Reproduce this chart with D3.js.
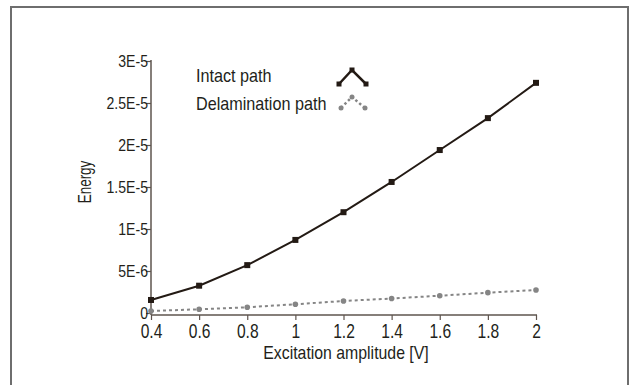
<!DOCTYPE html>
<html>
<head>
<meta charset="utf-8">
<script src="https://cdn.jsdelivr.net/npm/d3@7"></script>
<style>
  html, body { margin: 0; padding: 0; background: #fff; }
  svg { display: block; }
  text { font-family: "Liberation Sans", Arial, sans-serif; fill: #231f1a; }
</style>
</head>
<body>
<svg id="chart" width="634" height="385"></svg>
<script>
// Excitation amplitudes [V]
const amplitudes = [0.4, 0.6, 0.8, 1.0, 1.2, 1.4, 1.6, 1.8, 2.0];
// Signal energy along each path
const intactEnergy = [1.55e-6, 3.25e-6, 5.7e-6, 8.7e-6, 12.0e-6, 15.6e-6, 19.4e-6, 23.2e-6, 27.4e-6];
const delaminationEnergy = [0.24e-6, 0.44e-6, 0.68e-6, 1.04e-6, 1.43e-6, 1.72e-6, 2.06e-6, 2.42e-6, 2.74e-6];
// Axis ticks and labels
const xTicks = [0.4, 0.6, 0.8, 1.0, 1.2, 1.4, 1.6, 1.8, 2.0];
const yTicks = [0, 5e-6, 1e-5, 1.5e-5, 2e-5, 2.5e-5, 3e-5];
const yTickLabels = ["0", "5E-6", "1E-5", "1.5E-5", "2E-5", "2.5E-5", "3E-5"];
const seriesNames = ["Intact path", "Delamination path"];

const svg = d3.select("#chart");
const axisColor = "#5e544e";
const intactColor = "#231a14";
const delamColor = "#858585";

// outer frame (open at the bottom)
svg.append("path")
  .attr("d", "M11,390 L11,7 L628,7 L628,390")
  .attr("fill", "none")
  .attr("stroke", "#6e6e6e")
  .attr("stroke-width", 2);

const x = d3.scaleLinear().domain([0.4, 2]).range([151, 536]);
const y = d3.scaleLinear().domain([0, 3e-5]).range([313, 61]);

// y axis
const yAxis = d3.axisLeft(y)
  .tickValues(yTicks)
  .tickFormat((d, i) => yTickLabels[i])
  .tickSizeInner(5)
  .tickSizeOuter(0)
  .tickPadding(-2);
const gy = svg.append("g").attr("transform", "translate(151,0)").call(yAxis);
gy.select(".domain").remove();
gy.selectAll(".tick line").attr("stroke", axisColor).attr("stroke-width", 1.2);
gy.selectAll(".tick text")
  .attr("font-size", 16)
  .attr("dy", "0.36em")
  .attr("transform", "translate(-3,0) scale(0.88,1) translate(3,0)");
svg.append("line")
  .attr("x1", 151).attr("x2", 151).attr("y1", 60).attr("y2", 315)
  .attr("stroke", axisColor).attr("stroke-width", 1.5);

// x axis
const xAxis = d3.axisBottom(x)
  .tickValues(xTicks)
  .tickFormat(d3.format("~g"))
  .tickSizeInner(5)
  .tickSizeOuter(0)
  .tickPadding(4);
const gx = svg.append("g").attr("transform", "translate(0,315)").call(xAxis);
gx.select(".domain").remove();
gx.selectAll(".tick line").attr("stroke", axisColor).attr("stroke-width", 1.2);
gx.selectAll(".tick text")
  .attr("font-size", 20)
  .attr("transform", "scale(0.78,1)");
svg.append("line")
  .attr("x1", 151).attr("x2", 537).attr("y1", 315).attr("y2", 315)
  .attr("stroke", axisColor).attr("stroke-width", 1.5);

// axis titles
svg.append("text")
  .attr("transform", "translate(346,359) scale(0.88,1)")
  .attr("text-anchor", "middle")
  .attr("font-size", 18)
  .text("Excitation amplitude [V]");
svg.append("text")
  .attr("transform", "translate(91,182) rotate(-90) scale(0.75,1)")
  .attr("text-anchor", "middle")
  .attr("font-size", 18)
  .text("Energy");

// series lines
const line = d3.line();
const intactPts = amplitudes.map((a, i) => [x(a), y(intactEnergy[i])]);
const delamPts = amplitudes.map((a, i) => [x(a), y(delaminationEnergy[i])]);

svg.append("path")
  .attr("d", line(delamPts))
  .attr("fill", "none")
  .attr("stroke", delamColor)
  .attr("stroke-width", 2)
  .attr("stroke-dasharray", "3,3");
svg.selectAll(".delam-pt").data(delamPts).join("circle")
  .attr("cx", d => d[0]).attr("cy", d => d[1]).attr("r", 2.8)
  .attr("fill", delamColor);

svg.append("path")
  .attr("d", line(intactPts))
  .attr("fill", "none")
  .attr("stroke", intactColor)
  .attr("stroke-width", 2);
svg.selectAll(".intact-pt").data(intactPts).join("rect")
  .attr("x", d => d[0] - 3).attr("y", d => d[1] - 3)
  .attr("width", 6).attr("height", 6)
  .attr("fill", intactColor);

// legend
const legend = svg.append("g");
legend.append("text").attr("transform", "translate(196,82) scale(0.9,1)").attr("font-size", 18).text(seriesNames[0]);
legend.append("text").attr("transform", "translate(196,110) scale(0.9,1)").attr("font-size", 18).text(seriesNames[1]);

const intactSym = [[339, 84], [352, 70], [366, 84]];
legend.append("path").attr("d", d3.line()(intactSym))
  .attr("fill", "none").attr("stroke", intactColor).attr("stroke-width", 2.5);
legend.selectAll(".ls1").data(intactSym).join("rect")
  .attr("x", d => d[0] - 2.5).attr("y", d => d[1] - 2.5)
  .attr("width", 5).attr("height", 5).attr("fill", intactColor);

const delamSym = [[341, 108], [352, 97], [365, 108]];
legend.append("path").attr("d", d3.line()(delamSym))
  .attr("fill", "none").attr("stroke", delamColor).attr("stroke-width", 2.5)
  .attr("stroke-dasharray", "2.5,2.5");
legend.selectAll(".ls2").data(delamSym).join("circle")
  .attr("cx", d => d[0]).attr("cy", d => d[1]).attr("r", 2.5).attr("fill", delamColor);
</script>
</body>
</html>
